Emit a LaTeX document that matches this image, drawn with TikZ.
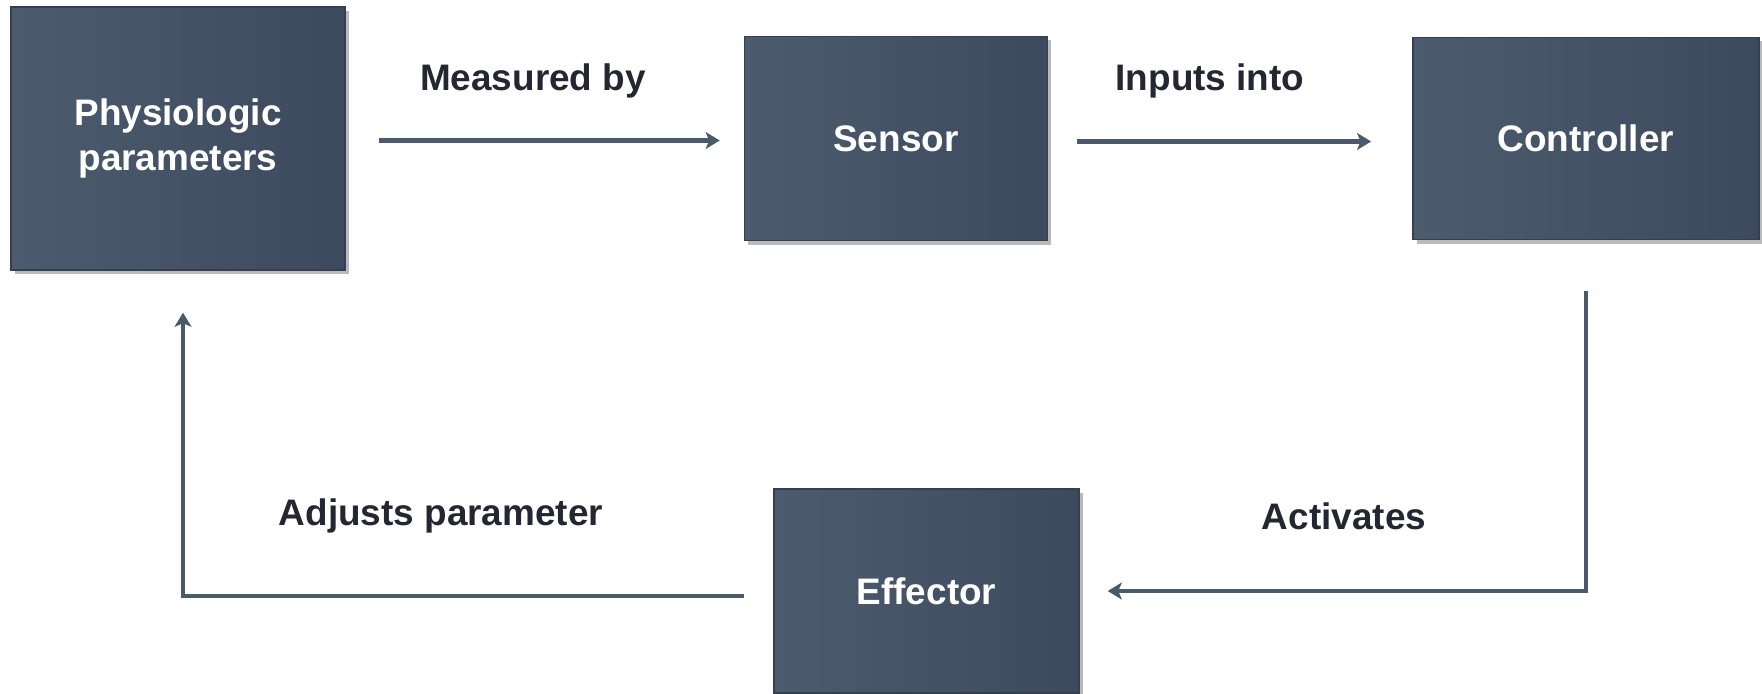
\documentclass[tikz,border=0pt]{standalone}
\usepackage{fontspec}
\setmainfont{Liberation Sans}
\usepackage{tikz}
\usetikzlibrary{arrows.meta,positioning,shadows}
\definecolor{slatelight}{HTML}{4D5B6F}
\definecolor{slatedark}{HTML}{3D4A5E}
\definecolor{slateedge}{HTML}{344050}
\definecolor{slateline}{HTML}{4B5A6B}
\definecolor{inkdark}{HTML}{262633}
\tikzset{
  loopbox/.style={draw=slateedge, line width=0.4pt,
                  left color=slatelight, right color=slatedark,
                  text=white, font=\fontsize{10.5}{13}\selectfont\bfseries,
                  align=center, inner sep=0pt,
                  drop shadow={shadow xshift=0.04cm, shadow yshift=-0.04cm,
                               opacity=0.45, fill=black!60}},
  looplabel/.style={text=inkdark, font=\fontsize{10.5}{13}\selectfont\bfseries},
  looparr/.style={-{Stealth[length=4pt, width=4.8pt, inset=1pt]},
                  line width=1.3pt, slateline}
}
\begin{document}
\begin{tikzpicture}
  \useasboundingbox (0,0) rectangle (17.62,-6.93);

  \node[loopbox, minimum width=3.34cm, minimum height=2.63cm] (phys) at (1.78,-1.385)
    {Physiologic\\parameters};
  \node[loopbox, minimum width=3.03cm, minimum height=2.04cm, right=3.98cm of phys] (sensor)
    {Sensor};
  \node[loopbox, minimum width=3.46cm, minimum height=2.02cm, right=3.64cm of sensor] (ctrl)
    {Controller};
  \node[loopbox, minimum width=3.05cm, minimum height=2.04cm] (eff) at (9.265,-5.91)
    {Effector};

  % feedback loop
  \draw[looparr, shorten <=0.33cm, shorten >=0.24cm]
    ([yshift=-0.02cm]phys.east) -- ([yshift=-0.02cm]phys.east -| sensor.west);
  \draw[looparr, shorten <=0.29cm, shorten >=0.41cm]
    ([yshift=-0.03cm]sensor.east) -- ([yshift=-0.03cm]sensor.east -| ctrl.west);
  \draw[looparr, shorten <=0.51cm, shorten >=0.28cm] (ctrl) |- (eff);
  \draw[looparr, shorten <=0.29cm, shorten >=0.42cm]
    ([yshift=-0.05cm]eff.west) -| ([xshift=0.05cm]phys.south);

  \node[looplabel] (lmeas) at (5.33,-0.81) {Measured by};
  \node[looplabel] (linp) at (12.10,-0.81) {Inputs into};
  \node[looplabel] (lact) at (13.44,-5.16) {Activates};
  \node[looplabel] (ladj) at (4.41,-5.16) {Adjusts parameter};
\end{tikzpicture}
\end{document}
